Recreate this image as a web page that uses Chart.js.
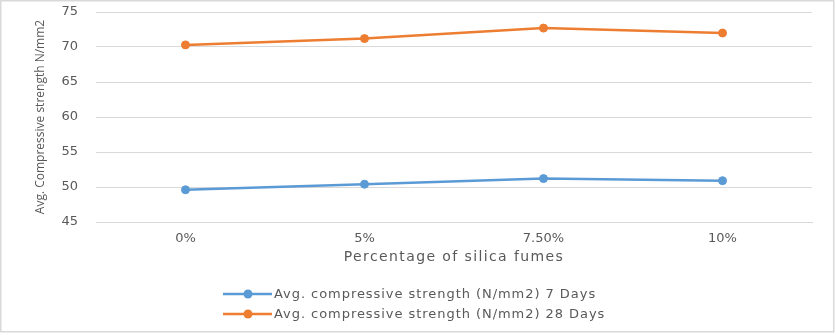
<!DOCTYPE html>
<html>
<head>
<meta charset="utf-8">
<script src="https://cdn.jsdelivr.net/npm/chart.js@4.4.0/dist/chart.umd.min.js"></script>
<style>
  html, body { margin: 0; padding: 0; background: #fff; }
  #wrap { width: 836px; height: 335px; position: relative; }
</style>
</head>
<body>
<div id="wrap"><canvas id="strengthChart" width="836" height="335"></canvas></div>
<script>
// silica fume dosage vs compressive strength
const categories = ['0%', '5%', '7.50%', '10%'];
const days7 = [49.6, 50.4, 51.2, 50.9];
const days28 = [70.3, 71.2, 72.7, 72.0];
const yTicks = [45, 50, 55, 60, 65, 70, 75];

const seriesNames = [
    'Avg. compressive strength (N/mm2) 7 Days',
    'Avg. compressive strength (N/mm2) 28 Days'
];
const xTitle = 'Percentage of silica fumes';
const yTitle = 'Avg. Compressive strength N/mm2';

const blue = '#5B9BD5';
const orange = '#ED7D31';
const textGrey = '#595959';
const wideFont = '"DejaVu Sans", sans-serif';

// frame, x title and legend rows (the reference text is stretched wide, so letterSpacing)
const framePlugin = {
    id: 'frame',
    beforeDraw(chart) {
        const ctx = chart.ctx;
        ctx.save();
        ctx.fillStyle = '#fff';
        ctx.fillRect(0, 0, chart.width, chart.height);
        ctx.restore();
    },
    afterDraw(chart) {
        const ctx = chart.ctx;
        const area = chart.chartArea;
        ctx.save();
        ctx.strokeStyle = '#d9d9d9';
        ctx.lineWidth = 1.5;
        ctx.strokeRect(0.75, 0.75, 833, 331);

        // x axis title
        ctx.fillStyle = textGrey;
        ctx.font = '14px ' + wideFont;
        ctx.letterSpacing = '1.4px';
        ctx.textAlign = 'center';
        ctx.textBaseline = 'middle';
        ctx.fillText(xTitle, (area.left + area.right) / 2, area.bottom + 35);

        // legend
        const rows = [294, 314];
        ctx.textAlign = 'left';
        ctx.font = '13px ' + wideFont;
        ctx.letterSpacing = '0.95px';
        chart.data.datasets.forEach((ds, i) => {
            const y = rows[i];
            ctx.strokeStyle = ds.borderColor;
            ctx.lineWidth = 2.5;
            ctx.beginPath();
            ctx.moveTo(223, y);
            ctx.lineTo(272, y);
            ctx.stroke();
            ctx.fillStyle = ds.borderColor;
            ctx.beginPath();
            ctx.arc(248, y, 4.5, 0, Math.PI * 2);
            ctx.fill();
            ctx.fillStyle = textGrey;
            ctx.fillText(ds.label, 274, y + 1);
        });
        ctx.restore();
    }
};

const ctx = document.getElementById('strengthChart').getContext('2d');
new Chart(ctx, {
    type: 'line',
    data: {
        labels: categories,
        datasets: [{
            label: seriesNames[0],
            data: days7,
            borderColor: blue,
            backgroundColor: blue,
            borderWidth: 2.5,
            pointRadius: 4,
            pointBorderWidth: 1,
            pointHoverRadius: 4,
            tension: 0
        }, {
            label: seriesNames[1],
            data: days28,
            borderColor: orange,
            backgroundColor: orange,
            borderWidth: 2.5,
            pointRadius: 4,
            pointBorderWidth: 1,
            pointHoverRadius: 4,
            tension: 0
        }]
    },
    options: {
        responsive: false,
        animation: false,
        layout: {
            padding: { left: 30, right: 24, top: 12, bottom: 68 }
        },
        plugins: {
            legend: { display: false },
            tooltip: { enabled: false }
        },
        scales: {
            x: {
                offset: true,
                grid: { display: false, drawTicks: false },
                border: { display: true, color: '#d9d9d9' },
                ticks: {
                    padding: 9,
                    color: textGrey,
                    font: { family: wideFont, size: 13 }
                },
                title: { display: false },
                afterFit(scale) {
                    scale.height = 45;
                    scale.paddingLeft = 0;
                    scale.paddingRight = 0;
                }
            },
            y: {
                min: yTicks[0],
                max: yTicks[yTicks.length - 1],
                afterBuildTicks(scale) {
                    scale.ticks = yTicks.map(v => ({ value: v }));
                },
                grid: { color: '#d9d9d9', drawTicks: false },
                border: { display: false },
                ticks: {
                    padding: 18,
                    color: textGrey,
                    font: { family: wideFont, size: 13 }
                },
                title: {
                    display: true,
                    text: yTitle,
                    color: textGrey,
                    font: { family: 'Open Sans', size: 12 },
                    padding: { top: 3, bottom: 0 }
                },
                afterFit(scale) {
                    scale.width = 66;
                    scale.paddingTop = 0;
                    scale.paddingBottom = 0;
                }
            }
        }
    },
    plugins: [framePlugin]
});
</script>
</body>
</html>
